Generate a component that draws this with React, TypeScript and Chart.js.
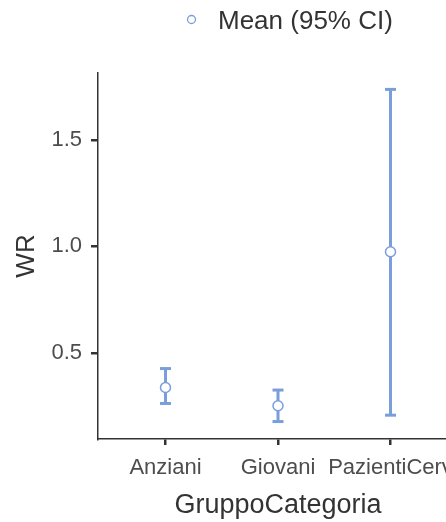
import React, { useEffect, useRef } from "react";
import { Chart, registerables } from "chart.js";

Chart.register(...registerables);

const categories = ["Anziani", "Giovani", "PazientiCerv"];
const means = [0.337, 0.251, 0.975];
const lower = [0.262, 0.177, 0.207];
const upper = [0.426, 0.325, 1.738];
const yTicks = [0.5, 1.0, 1.5];
const legendLabel = "Mean (95% CI)";
const xTitle = "GruppoCategoria";
const yTitle = "WR";

const BLUE = "#7a9edb";
const FONT = "'Liberation Sans', Arial, sans-serif";

export default function App() {
  const ref = useRef<HTMLCanvasElement | null>(null);
  useEffect(() => {
    const canvas = ref.current!;
    const meanPts = means.map((m, i) => ({ x: i, y: m }));
    const capPts: { x: number; y: number }[] = [];
    const barPts: { x: number; y: number | null }[] = [];
    categories.forEach((_, i) => {
      capPts.push({ x: i, y: lower[i] }, { x: i, y: upper[i] });
      barPts.push({ x: i, y: lower[i] }, { x: i, y: upper[i] }, { x: i, y: null });
    });

    const legendPlugin = {
      id: "customLegend",
      afterDraw(chart: any) {
        const ctx = chart.ctx;
        ctx.save();
        ctx.beginPath();
        ctx.arc(191.5, 19.5, 4, 0, Math.PI * 2);
        ctx.fillStyle = "#fff";
        ctx.fill();
        ctx.lineWidth = 1.3;
        ctx.strokeStyle = BLUE;
        ctx.stroke();
        ctx.fillStyle = "#333";
        ctx.font = `26px ${FONT}`;
        ctx.textBaseline = "middle";
        ctx.textAlign = "left";
        ctx.fillText(legendLabel, 218, 22);
        ctx.restore();
      },
    };

    const chart = new Chart(canvas, {
      type: "scatter",
      data: {
        datasets: [
          {
            type: "scatter",
            data: meanPts,
            pointStyle: "circle",
            pointRadius: 5,
            pointBorderWidth: 1.5,
            pointBackgroundColor: "#ffffff",
            pointBorderColor: BLUE,
          } as any,
          {
            type: "scatter",
            data: capPts,
            pointStyle: "line",
            pointRadius: 5.5,
            pointBorderWidth: 3,
            pointBorderColor: BLUE,
          } as any,
          {
            type: "line",
            data: barPts,
            borderColor: BLUE,
            borderWidth: 3,
            pointRadius: 0,
            spanGaps: false,
            fill: false,
          } as any,
        ],
      },
      options: {
        animation: false,
        responsive: false,
        layout: { padding: { top: 73, left: 0, right: 62, bottom: 0 } },
        plugins: { legend: { display: false }, tooltip: { enabled: false } },
        scales: {
          x: {
            type: "linear",
            min: -0.6,
            max: 2.6,
            afterBuildTicks(scale: any) {
              scale.ticks = categories.map((_, i) => ({ value: i }));
            },
            afterFit(scale: any) {
              scale.height = 83;
              scale.paddingLeft = 0;
              scale.paddingRight = 0;
            },
            ticks: {
              autoSkip: false,
              maxRotation: 0,
              minRotation: 0,
              padding: 10,
              color: "#4d4d4d",
              font: { family: FONT, size: 22 },
              callback: (v: any) => categories[v as number] ?? "",
            },
            grid: {
              drawOnChartArea: false,
              drawTicks: true,
              tickLength: 6,
              color: "#333",
              lineWidth: 2.5,
            },
            border: { display: true, color: "#333", width: 1.5 },
            title: {
              display: true,
              text: xTitle,
              color: "#333",
              font: { family: FONT, size: 27 },
              padding: { top: 0, bottom: 0 },
            },
          },
          y: {
            type: "linear",
            min: 0.095,
            max: 1.815,
            afterBuildTicks(scale: any) {
              scale.ticks = yTicks.map((v) => ({ value: v }));
            },
            afterFit(scale: any) {
              scale.width = 98;
              scale.paddingTop = 0;
              scale.paddingBottom = 0;
            },
            ticks: {
              padding: 9,
              color: "#4d4d4d",
              font: { family: FONT, size: 22 },
              callback: (v: any) => Number(v).toFixed(1),
            },
            grid: {
              drawOnChartArea: false,
              drawTicks: true,
              tickLength: 7,
              color: "#333",
              lineWidth: 2.5,
            },
            border: { display: true, color: "#333", width: 1.5 },
            title: {
              display: true,
              text: yTitle,
              color: "#333",
              font: { family: FONT, size: 26 },
              padding: { top: 11, bottom: 0 },
            },
          },
        },
      },
      plugins: [legendPlugin],
    } as any);
    return () => chart.destroy();
  }, []);

  return (
    <div
      style={{
        position: "fixed",
        left: 0,
        top: 0,
        width: 446,
        height: 522,
        overflow: "hidden",
        background: "#fff",
      }}
    >
      <canvas ref={ref} width={520} height={522} style={{ width: 520, height: 522, display: "block" }} />
    </div>
  );
}
